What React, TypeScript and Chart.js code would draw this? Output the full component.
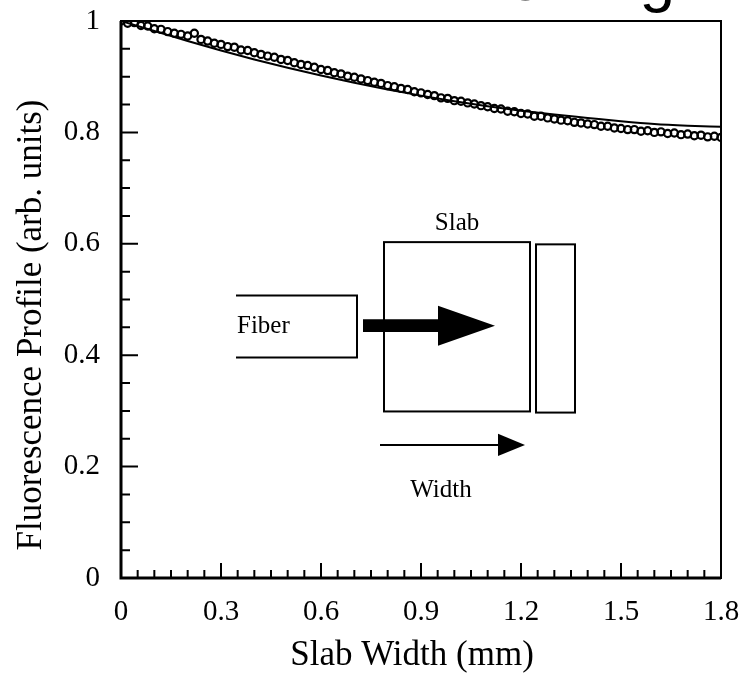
import { useEffect, useRef } from 'react';
import { Chart, registerables } from 'chart.js';
Chart.register(...registerables);

// Measured fluorescence profile (open circles)
const pointX = [
  0.0, 0.02, 0.04, 0.06, 0.08, 0.1, 0.12, 0.14, 0.16, 0.18,
  0.2, 0.22, 0.24, 0.26, 0.28, 0.3, 0.32, 0.34, 0.36, 0.38,
  0.4, 0.42, 0.44, 0.46, 0.48, 0.5, 0.52, 0.54, 0.56, 0.58,
  0.6, 0.62, 0.64, 0.66, 0.68, 0.7, 0.72, 0.74, 0.76, 0.78,
  0.8, 0.82, 0.84, 0.86, 0.88, 0.9, 0.92, 0.94, 0.96, 0.98,
  1.0, 1.02, 1.04, 1.06, 1.08, 1.1, 1.12, 1.14, 1.16, 1.18,
  1.2, 1.22, 1.24, 1.26, 1.28, 1.3, 1.32, 1.34, 1.36, 1.38,
  1.4, 1.42, 1.44, 1.46, 1.48, 1.5, 1.52, 1.54, 1.56, 1.58,
  1.6, 1.62, 1.64, 1.66, 1.68, 1.7, 1.72, 1.74, 1.76, 1.78, 1.8,
];
const pointY = [
  1.0, 0.996, 0.997, 0.992, 0.991, 0.986, 0.985, 0.981, 0.978, 0.976,
  0.973, 0.978, 0.967, 0.964, 0.960, 0.958, 0.954, 0.953, 0.948, 0.947,
  0.943, 0.940, 0.937, 0.935, 0.931, 0.929, 0.925, 0.922, 0.920, 0.917,
  0.913, 0.911, 0.907, 0.905, 0.901, 0.899, 0.896, 0.893, 0.890, 0.888,
  0.884, 0.882, 0.879, 0.877, 0.873, 0.871, 0.868, 0.866, 0.862, 0.861,
  0.857, 0.856, 0.853, 0.851, 0.848, 0.846, 0.843, 0.842, 0.838, 0.837,
  0.834, 0.833, 0.829, 0.829, 0.826, 0.824, 0.822, 0.821, 0.818, 0.817,
  0.815, 0.814, 0.811, 0.811, 0.808, 0.807, 0.805, 0.805, 0.802, 0.803,
  0.800, 0.801, 0.798, 0.799, 0.796, 0.797, 0.794, 0.795, 0.792, 0.793, 0.791,
];

// Model fit (solid line)
const fitX = [0, 0.1, 0.2, 0.3, 0.4, 0.5, 0.6, 0.7, 0.8, 0.9, 1.0, 1.1, 1.2, 1.3, 1.4, 1.5, 1.6, 1.7, 1.8];
const fitY = [1.0, 0.982, 0.964, 0.947, 0.931, 0.916, 0.902, 0.889, 0.877, 0.866, 0.856, 0.847, 0.839, 0.832, 0.826, 0.82, 0.815, 0.812, 0.81];

const xTickLabels = ['0', '0.3', '0.6', '0.9', '1.2', '1.5', '1.8'];
const yTickLabels = ['0', '0.2', '0.4', '0.6', '0.8', '1'];

const xTitle = 'Slab Width (mm)';
const yTitle = 'Fluorescence Profile (arb. units)';
const topTitle = 'Profiling';
const insetLabels = { fiber: 'Fiber', slab: 'Slab', width: 'Width' };

// Inset schematic geometry, in data units
const inset = {
  fiber: { x0: 0.345, x1: 0.708, y0: 0.396, y1: 0.507 },
  slab: { x0: 0.789, x1: 1.227, y0: 0.299, y1: 0.603 },
  thin: { x0: 1.245, x1: 1.362, y0: 0.297, y1: 0.599 },
  bigArrow: { x0: 0.726, xh: 0.951, xt: 1.122, yc: 0.453, shaftHalf: 0.0115, headHalf: 0.036 },
  smallArrow: { x0: 0.777, xh: 1.131, xt: 1.212, yc: 0.239, headHalf: 0.02 },
  fiberText: { x: 0.348, y: 0.451 },
  slabText: { x: 1.008, y: 0.637 },
  widthText: { x: 0.96, y: 0.158 },
};

const SERIF = "'Liberation Serif', 'Times New Roman', serif";

const decorPlugin = {
  id: 'decor',
  afterDatasetsDraw(chart: any) {
    const { ctx, chartArea: ca, scales } = chart;
    const xs = scales.x;
    const ys = scales.y;
    const X = (v: number) => xs.getPixelForValue(v);
    const Y = (v: number) => ys.getPixelForValue(v);
    ctx.save();
    ctx.strokeStyle = '#000';
    ctx.fillStyle = '#000';

    // frame
    ctx.lineWidth = 2;
    ctx.strokeRect(ca.left, ca.top, ca.right - ca.left, ca.bottom - ca.top);
    ctx.lineWidth = 3;
    ctx.beginPath();
    ctx.moveTo(ca.left, ca.top);
    ctx.lineTo(ca.left, ca.bottom);
    ctx.lineTo(ca.right, ca.bottom);
    ctx.stroke();

    // inward ticks
    ctx.lineWidth = 2;
    ctx.beginPath();
    for (const t of xs.ticks) {
      const px = X(t.value);
      if (px <= ca.left + 1 || px >= ca.right - 1) continue;
      const len = t.label ? 15 : 8;
      ctx.moveTo(px, ca.bottom);
      ctx.lineTo(px, ca.bottom - len);
    }
    for (const t of ys.ticks) {
      const py = Y(t.value);
      if (py <= ca.top + 1 || py >= ca.bottom - 1) continue;
      const len = t.label ? 17 : 9;
      ctx.moveTo(ca.left, py);
      ctx.lineTo(ca.left + len, py);
    }
    ctx.stroke();

    // inset schematic
    ctx.lineWidth = 2;
    const f = inset.fiber;
    ctx.beginPath();
    ctx.moveTo(X(f.x0), Y(f.y1));
    ctx.lineTo(X(f.x1), Y(f.y1));
    ctx.lineTo(X(f.x1), Y(f.y0));
    ctx.lineTo(X(f.x0), Y(f.y0));
    ctx.stroke();
    for (const r of [inset.slab, inset.thin]) {
      ctx.strokeRect(X(r.x0), Y(r.y1), X(r.x1) - X(r.x0), Y(r.y0) - Y(r.y1));
    }
    const b = inset.bigArrow;
    ctx.beginPath();
    ctx.moveTo(X(b.x0), Y(b.yc + b.shaftHalf));
    ctx.lineTo(X(b.xh), Y(b.yc + b.shaftHalf));
    ctx.lineTo(X(b.xh), Y(b.yc + b.headHalf));
    ctx.lineTo(X(b.xt), Y(b.yc));
    ctx.lineTo(X(b.xh), Y(b.yc - b.headHalf));
    ctx.lineTo(X(b.xh), Y(b.yc - b.shaftHalf));
    ctx.lineTo(X(b.x0), Y(b.yc - b.shaftHalf));
    ctx.closePath();
    ctx.fill();
    const s = inset.smallArrow;
    ctx.beginPath();
    ctx.moveTo(X(s.x0), Y(s.yc));
    ctx.lineTo(X(s.xh), Y(s.yc));
    ctx.stroke();
    ctx.beginPath();
    ctx.moveTo(X(s.xh), Y(s.yc + s.headHalf));
    ctx.lineTo(X(s.xt), Y(s.yc));
    ctx.lineTo(X(s.xh), Y(s.yc - s.headHalf));
    ctx.closePath();
    ctx.fill();

    ctx.font = `25px ${SERIF}`;
    ctx.textBaseline = 'middle';
    ctx.textAlign = 'left';
    ctx.fillText(insetLabels.fiber, X(inset.fiberText.x), Y(inset.fiberText.y));
    ctx.textAlign = 'center';
    ctx.fillText(insetLabels.slab, X(inset.slabText.x), Y(inset.slabText.y));
    ctx.fillText(insetLabels.width, X(inset.widthText.x), Y(inset.widthText.y));

    // axis titles
    ctx.font = `35px ${SERIF}`;
    ctx.textAlign = 'center';
    ctx.textBaseline = 'alphabetic';
    ctx.fillText(xTitle, 412, 665);
    ctx.save();
    ctx.translate(41, 325);
    ctx.rotate(-Math.PI / 2);
    ctx.fillText(yTitle, 0, 0);
    ctx.restore();

    // clipped title fragment at the very top
    ctx.font = `64px 'Liberation Sans', Arial, sans-serif`;
    ctx.textAlign = 'right';
    ctx.textBaseline = 'alphabetic';
    ctx.fillText(topTitle, 675, 0);

    ctx.restore();
  },
};

export default function App() {
  const ref = useRef<HTMLCanvasElement | null>(null);
  useEffect(() => {
    if (!ref.current) return;
    const chart = new Chart(ref.current, {
      type: 'scatter',
      data: {
        datasets: [
          {
            label: 'fit',
            data: fitX.map((x, i) => ({ x, y: fitY[i] })),
            showLine: true,
            borderColor: '#000',
            borderWidth: 2,
            pointRadius: 0,
            cubicInterpolationMode: 'monotone',
          },
          {
            label: 'data',
            data: pointX.map((x, i) => ({ x, y: pointY[i] })),
            showLine: false,
            pointStyle: 'circle',
            pointRadius: 3.6,
            pointBorderWidth: 2.2,
            pointBorderColor: '#000',
            pointBackgroundColor: 'rgba(255,255,255,0)',
          },
        ],
      } as any,
      options: {
        animation: false,
        responsive: true,
        maintainAspectRatio: false,
        layout: { padding: { top: 21, right: 22, left: 0, bottom: 0 } },
        plugins: { legend: { display: false }, tooltip: { enabled: false }, title: { display: false } },
        scales: {
          x: {
            type: 'linear',
            min: 0,
            max: 1.8,
            grid: { display: false, drawTicks: true, tickLength: 14 },
            border: { display: false },
            afterFit: (axis: any) => { axis.height = 96; },
            ticks: {
              stepSize: 0.05,
              autoSkip: false,
              maxRotation: 0,
              padding: 3,
              color: '#000',
              font: { family: SERIF, size: 29 },
              callback: (v: any) => {
                const s = String(Math.round(Number(v) * 100) / 100);
                return xTickLabels.includes(s) ? s : '';
              },
            },
          },
          y: {
            type: 'linear',
            min: 0,
            max: 1,
            grid: { display: false, drawTicks: true, tickLength: 18 },
            border: { display: false },
            afterFit: (axis: any) => { axis.width = 121; },
            ticks: {
              stepSize: 0.05,
              autoSkip: false,
              padding: 3,
              color: '#000',
              font: { family: SERIF, size: 29 },
              callback: (v: any) => {
                const s = String(Math.round(Number(v) * 100) / 100);
                return yTickLabels.includes(s) ? s : '';
              },
            },
          },
        },
      } as any,
      plugins: [decorPlugin],
    });
    return () => chart.destroy();
  }, []);
  return (
    <div style={{ position: 'fixed', left: 0, top: 0, width: 743, height: 674, background: '#fff' }}>
      <canvas ref={ref} />
    </div>
  );
}
